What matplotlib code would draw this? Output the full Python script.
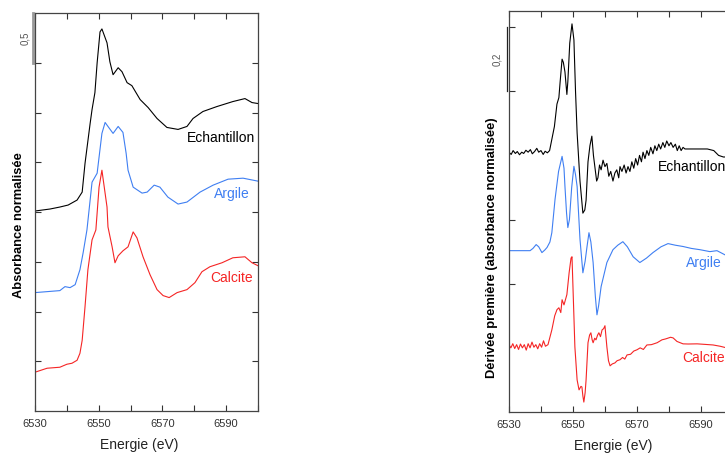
import matplotlib
matplotlib.use("Agg")
import matplotlib.pyplot as plt
import numpy as np

plt.rcParams['font.family'] = ['Liberation Sans', 'DejaVu Sans']

# ---- left panel: normalised absorbance
ech_x = [6530, 6534.7, 6537.8, 6540.4, 6543.2, 6544.8, 6545.7, 6547.3, 6547.9, 6548.8,
         6549.5, 6550.4, 6551.0, 6552.6, 6553.5, 6554.5, 6556.1, 6557.3, 6558.9, 6560.4,
         6563.0, 6565.5, 6568.3, 6571.4, 6574.9, 6577.7, 6579.6, 6582.7, 6587.1, 6592.1,
         6595.9, 6598.1, 6600]
ech_y = [2.01, 2.03, 2.05, 2.07, 2.12, 2.20, 2.49, 2.89, 3.03, 3.20,
         3.50, 3.81, 3.84, 3.70, 3.51, 3.38, 3.45, 3.41, 3.30, 3.27,
         3.13, 3.05, 2.94, 2.85, 2.83, 2.86, 2.94, 3.01, 3.06, 3.11,
         3.14, 3.10, 3.09]

arg_x = [6530, 6537.8, 6539.4, 6541.0, 6542.6, 6544.1, 6545.1, 6546.3, 6547.9, 6549.5,
         6551.0, 6552.0, 6552.9, 6554.5, 6556.1, 6557.6, 6558.6, 6559.2, 6560.8, 6563.6,
         6565.2, 6567.4, 6569.2, 6571.7, 6574.9, 6577.7, 6581.8, 6585.9, 6590.6, 6595.3,
         6600]
arg_y = [1.19, 1.21, 1.25, 1.24, 1.27, 1.42, 1.59, 1.82, 2.30, 2.39,
         2.79, 2.90, 2.86, 2.79, 2.86, 2.80, 2.59, 2.42, 2.25, 2.19,
         2.20, 2.27, 2.25, 2.15, 2.08, 2.10, 2.20, 2.27, 2.33, 2.34,
         2.31]

cal_x = [6530, 6533.8, 6537.8, 6540.0, 6541.6, 6543.2, 6544.1, 6544.8, 6545.7, 6546.6,
         6547.9, 6549.1, 6550.1, 6551.0, 6551.3, 6552.6, 6552.9, 6554.2, 6555.1, 6556.1,
         6557.6, 6559.2, 6560.8, 6562.0, 6563.9, 6566.1, 6568.3, 6570.2, 6572.1, 6574.6,
         6577.7, 6580.2, 6582.4, 6584.9, 6588.7, 6592.1, 6595.9, 6598.1, 6600]
cal_y = [0.39, 0.43, 0.44, 0.47, 0.48, 0.51, 0.58, 0.71, 1.05, 1.42,
         1.72, 1.82, 2.25, 2.42, 2.35, 2.05, 1.85, 1.65, 1.49, 1.56,
         1.61, 1.65, 1.80, 1.74, 1.55, 1.37, 1.22, 1.16, 1.14, 1.19,
         1.22, 1.29, 1.40, 1.45, 1.49, 1.54, 1.55, 1.49, 1.46]

# ---- right panel: first derivative
dech_x = [6530, 6530.7, 6531.3, 6532, 6532.6, 6533.3, 6534, 6534.6, 6535.3, 6536,
          6536.7, 6537.3, 6538, 6538.7, 6539.3, 6540, 6540.7, 6541.3, 6542, 6542.7,
          6543.4, 6544.2, 6545, 6545.6, 6546.0, 6546.6, 6547.0, 6547.5, 6548.1, 6548.4,
          6549.0, 6549.7, 6550.3, 6550.8, 6551.3, 6552.2, 6553.1, 6553.7, 6554.1, 6554.7,
          6555.3, 6555.9, 6556.4, 6556.9, 6557.4, 6557.8, 6558.3, 6558.8, 6559.4, 6560,
          6560.6, 6561.2, 6561.8, 6562.5, 6563.1, 6563.7, 6564.3, 6564.7, 6565.3, 6566,
          6566.6, 6567.2, 6567.8, 6568.4, 6569, 6569.6, 6570.2, 6570.8, 6571.4, 6571.9,
          6572.5, 6573.1, 6573.7, 6574.3, 6575, 6575.6, 6576.2, 6576.8, 6577.4, 6578.1,
          6578.7, 6579.3, 6580, 6580.6, 6581.3, 6582, 6582.6, 6583.2, 6583.8, 6584.4,
          6585, 6588, 6592, 6594, 6595.5, 6597, 6600]
dech_y = [0.81, 0.803, 0.815, 0.806, 0.812, 0.802, 0.81, 0.806, 0.816, 0.81,
          0.818, 0.805, 0.812, 0.822, 0.81, 0.815, 0.803, 0.813, 0.808, 0.815,
          0.85, 0.89, 0.96, 0.98, 1.03, 1.10, 1.09, 1.06, 0.99, 1.03,
          1.15, 1.21, 1.16, 1.00, 0.87, 0.72, 0.62, 0.63, 0.66, 0.78,
          0.83, 0.86, 0.80, 0.76, 0.72, 0.73, 0.77, 0.755, 0.785, 0.765,
          0.775, 0.735, 0.75, 0.72, 0.745, 0.755, 0.73, 0.765, 0.75, 0.77,
          0.745, 0.765, 0.75, 0.78, 0.76, 0.79, 0.77, 0.80, 0.78, 0.81,
          0.79, 0.815, 0.80, 0.825, 0.805, 0.83, 0.815, 0.835, 0.82, 0.84,
          0.825, 0.845, 0.83, 0.84, 0.825, 0.835, 0.815, 0.83, 0.815, 0.825,
          0.82, 0.82, 0.82, 0.815, 0.80, 0.795, 0.795]

darg_x = [6530, 6536.6, 6537.5, 6538.5, 6539.3, 6540.3, 6541.2, 6541.9, 6542.8, 6543.4,
          6544.4, 6545.5, 6546.6, 6547.2, 6547.5, 6548, 6548.4, 6548.9, 6549.6, 6550.3,
          6550.8, 6551.3, 6552.2, 6553.1, 6553.8, 6554.4, 6555, 6555.6, 6556.3, 6557,
          6557.5, 6558, 6558.8, 6560.6, 6562.5, 6564, 6565.6, 6567, 6568.8, 6570.9,
          6573, 6575, 6577.5, 6579.7, 6582, 6584.4, 6587, 6589.7, 6592.8, 6595,
          6597.5, 6600]
darg_y = [0.503, 0.503, 0.51, 0.522, 0.515, 0.497, 0.505, 0.513, 0.53, 0.559,
          0.663, 0.75, 0.797, 0.76, 0.703, 0.62, 0.575, 0.60, 0.70, 0.766,
          0.74, 0.703, 0.538, 0.434, 0.47, 0.516, 0.559, 0.53, 0.466, 0.36,
          0.303, 0.33, 0.391, 0.466, 0.506, 0.52, 0.531, 0.515, 0.484, 0.466,
          0.48, 0.497, 0.515, 0.525, 0.52, 0.516, 0.51, 0.506, 0.50, 0.503,
          0.49, 0.49]

dcal_x = [6530, 6530.6, 6531.2, 6531.8, 6532.4, 6533, 6533.6, 6534.2, 6534.8, 6535.4,
          6536, 6536.6, 6537.2, 6537.8, 6538.4, 6539, 6539.6, 6540.2, 6540.8, 6541.4,
          6542.2, 6543.4, 6544.3, 6545, 6545.6, 6546.2, 6546.6, 6547.2, 6548.1, 6548.8,
          6549.4, 6549.7, 6550, 6550.6, 6551.3, 6551.9, 6552.5, 6552.8, 6553.1, 6553.4,
          6553.8, 6554.1, 6554.7, 6555.2, 6555.6, 6556, 6556.3, 6556.8, 6557.2, 6557.7,
          6558.1, 6558.6, 6559.1, 6559.6, 6560, 6560.6, 6561.1, 6561.6, 6562.3, 6563.1,
          6563.8, 6564.7, 6565.5, 6566.2, 6566.9, 6568, 6569, 6570, 6571, 6572,
          6573.1, 6574.5, 6576.3, 6577.8, 6579, 6580.5, 6581.3, 6582.5, 6584.4, 6586,
          6588.8, 6591, 6593.8, 6596, 6598, 6600]
dcal_y = [0.21, 0.20, 0.213, 0.198, 0.21, 0.195, 0.212, 0.20, 0.21, 0.193,
          0.213, 0.20, 0.218, 0.202, 0.21, 0.197, 0.213, 0.202, 0.222, 0.205,
          0.21, 0.256, 0.30, 0.319, 0.325, 0.31, 0.35, 0.334, 0.366, 0.434,
          0.48, 0.484, 0.391, 0.203, 0.10, 0.069, 0.08, 0.078, 0.05, 0.031,
          0.06, 0.10, 0.216, 0.24, 0.247, 0.225, 0.216, 0.23, 0.225, 0.24,
          0.247, 0.235, 0.256, 0.26, 0.269, 0.203, 0.16, 0.144, 0.15, 0.153,
          0.16, 0.163, 0.17, 0.165, 0.178, 0.18, 0.19, 0.194, 0.20, 0.195,
          0.209, 0.21, 0.216, 0.225, 0.228, 0.233, 0.231, 0.22, 0.2125, 0.212,
          0.2125, 0.211, 0.209, 0.205, 0.20, 0.195]

names = ['Echantillon', 'Argile', 'Calcite']
colors = ['black', '#3f7ff2', '#f52525']

xticks = np.arange(6530, 6601, 10)
xticklabels = ['6530', '', '6550', '', '6570', '', '6590', '']

fig = plt.figure(figsize=(7.25, 4.58), dpi=100)
ax1 = fig.add_axes([0.0483, 0.1026, 0.3076, 0.869])
ax2 = fig.add_axes([0.702, 0.1004, 0.309, 0.8755])

ax1.plot(ech_x, ech_y, color=colors[0], lw=0.8)
ax1.plot(arg_x, arg_y, color=colors[1], lw=0.8)
ax1.plot(cal_x, cal_y, color=colors[2], lw=0.8)
ax2.plot(dech_x, dech_y, color=colors[0], lw=0.8)
ax2.plot(darg_x, darg_y, color=colors[1], lw=0.8)
ax2.plot(dcal_x, dcal_y, color=colors[2], lw=0.8)

ax1.set_ylim(0, 4)
ax1.set_yticks(np.arange(0.5, 3.6, 0.5))
ax2.set_ylim(0, 1.25)
ax2.set_yticks([0.4, 0.6, 1.0, 1.2])

for ax in (ax1, ax2):
    ax.set_xlim(6530, 6600)
    ax.set_xticks(xticks)
    ax.set_xticklabels(xticklabels)
    ax.set_yticklabels([])
    ax.tick_params(direction='in', length=4, width=0.8, color='#333',
                   top=True, right=True, labelsize=8, labelcolor='#333', pad=6)
    for s in ax.spines.values():
        s.set_color('#444')
        s.set_linewidth(0.9)
    ax.set_xlabel('Energie (eV)', fontsize=10, color='#222')
    ax.xaxis.set_label_coords(0.466, -0.068)

ax1.set_ylabel('Absorbance normalisée', fontsize=9.3, fontweight='bold')
ax1.yaxis.set_label_coords(-0.047, 0.467)
ax2.set_ylabel('Dérivée première (absorbance normalisée)', fontsize=9.3, fontweight='bold')
ax2.yaxis.set_label_coords(-0.047, 0.411)

# curve names
ax1.text(6599, 2.74, names[0], color=colors[0], fontsize=10, ha='right', va='center')
ax1.text(6597.5, 2.18, names[1], color=colors[1], fontsize=10, ha='right', va='center')
ax1.text(6598.4, 1.34, names[2], color=colors[2], fontsize=10, ha='right', va='center')
ax2.text(6576.6, 0.7625, names[0], color=colors[0], fontsize=10, ha='left', va='center')
ax2.text(6585.3, 0.466, names[1], color=colors[1], fontsize=10, ha='left', va='center')
ax2.text(6584, 0.169, names[2], color=colors[2], fontsize=10, ha='left', va='center')

# scale bars
ax1.plot([6529.4, 6529.4], [3.5, 4.0], color='#999', lw=2, clip_on=False)
ax1.text(6527.0, 3.75, '0,5', rotation=90, fontsize=7, color='#555', ha='center', va='center')
ax2.plot([6529.3, 6529.3], [1.0, 1.2], color='#222', lw=0.9, clip_on=False)
ax2.text(6526.2, 1.1, '0,2', rotation=90, fontsize=7, color='#555', ha='center', va='center')

plt.savefig('out.png', dpi=100)
